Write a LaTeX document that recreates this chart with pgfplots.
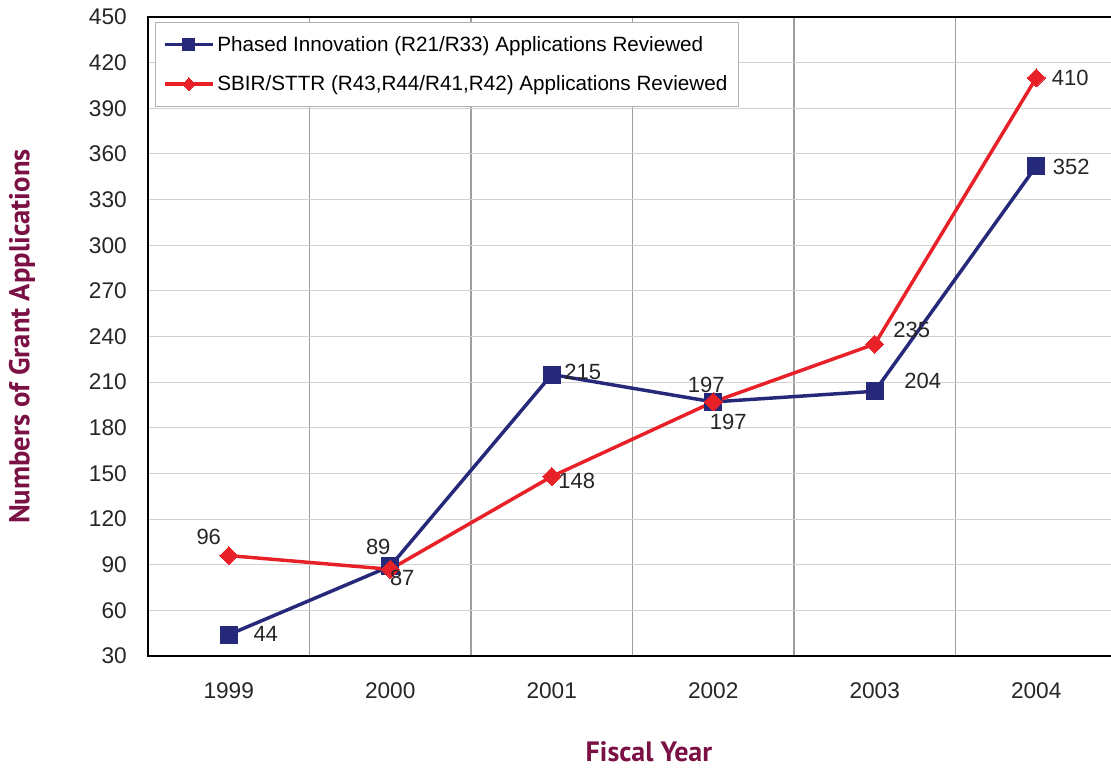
\documentclass[border=0pt]{standalone}
\usepackage{pgfplots}
\pgfplotsset{compat=1.18}
\usepackage{pgfplotstable}
\usepackage{fontspec}
\setmainfont{Liberation Sans}
\newfontfamily\titlefont{PT Sans}
\definecolor{navy}{RGB}{38,40,122}
\definecolor{sred}{RGB}{232,32,40}
\definecolor{maroon}{RGB}{122,16,68}

\pgfplotstableread{
x y dx dy
0 44 27.75 0.75
1 89 -9 14.25
2 215 23.25 2.25
3 197 -5.25 12.75
4 204 36 7.5
5 352 26.25 -0.75
}\phased
\pgfplotstableread{
x y dx dy
0 96 -15 14.25
1 87 9 -6.75
2 148 18.75 -3
3 197 11.25 -15
4 235 27.75 10.5
5 410 25.5 0
}\sbir

\begin{document}
\begin{tikzpicture}
\begin{axis}[
  at={(111pt,84pt)}, anchor=south west,
  scale only axis, width=726.75pt, height=479.25pt,
  xmin=-0.5, xmax=5.5, ymin=30, ymax=450,
  xtick={0,1,2,3,4,5},
  xticklabels={1999,2000,2001,2002,2003,2004},
  minor xtick={0.5,1.5,2.5,3.5,4.5},
  ytick={30,60,...,450},
  ymajorgrids=true, xminorgrids=true,
  major grid style={draw=black!18, line width=0.8pt},
  minor grid style={draw=black!38, line width=0.8pt},
  major tick length=0pt, minor tick length=0pt,
  axis line style={black, line width=1.5pt},
  /pgf/number format/assume math mode=true,
  ticklabel style={font=\fontsize{17}{20}\selectfont, text=black!85},
  xticklabel style={anchor=center, inner sep=0pt, yshift=-26pt},
  yticklabel style={anchor=east, inner sep=0pt, xshift=-15.75pt},
  xlabel={Fiscal Year},
  ylabel={Numbers of Grant Applications},
  every axis x label/.style={at={(axis description cs:0.517,-0.150)}, anchor=center, font=\titlefont\bfseries\fontsize{21}{24}\selectfont, text=maroon},
  every axis y label/.style={at={(axis description cs:-0.130,0.5)}, anchor=center, rotate=90, font=\titlefont\bfseries\fontsize{21.5}{24}\selectfont, text=maroon},
  legend style={at={(0.0072,0.992)}, anchor=north west, draw=black!30, fill=white,
    font=\fontsize{15.5}{18}\selectfont, row sep=13pt, inner xsep=6pt, inner ysep=8.25pt},
  legend cell align=left,
  nodes near coords={\pgfmathprintnumber{\pgfplotspointmeta}},
  point meta=y,
  visualization depends on={\thisrow{dx}\as\labdx},
  visualization depends on={\thisrow{dy}\as\labdy},
  every node near coord/.append style={anchor=center, inner sep=0pt, xshift=\labdx pt, yshift=\labdy pt, font=\fontsize{16.5}{19}\selectfont, text=black!85},
]
\addplot[navy, line width=2.6pt, mark=square*, mark size=6.4pt, mark options={solid, fill=navy, line width=0pt},
  legend image code/.code={\draw[mark size=4.5pt, mark repeat=2, mark phase=2] plot coordinates {(0pt,0pt) (18pt,0pt) (36pt,0pt)};}] table[x=x,y=y] {\phased};
\addlegendentry{Phased Innovation (R21/R33) Applications Reviewed}
\addplot[sred, line width=2.6pt, mark=square*, mark size=4.8pt, mark options={solid, fill=sred, line width=0pt, rotate=45},
  legend image code/.code={\draw[mark size=3.3pt, mark repeat=2, mark phase=2] plot coordinates {(0pt,0pt) (18pt,0pt) (36pt,0pt)};}] table[x=x,y=y] {\sbir};
\addlegendentry{SBIR/STTR (R43,R44/R41,R42) Applications Reviewed}
\end{axis}
\pgfresetboundingbox
\path[use as bounding box] (0pt,0pt) rectangle (833.25pt,576pt);
\end{tikzpicture}
\end{document}
